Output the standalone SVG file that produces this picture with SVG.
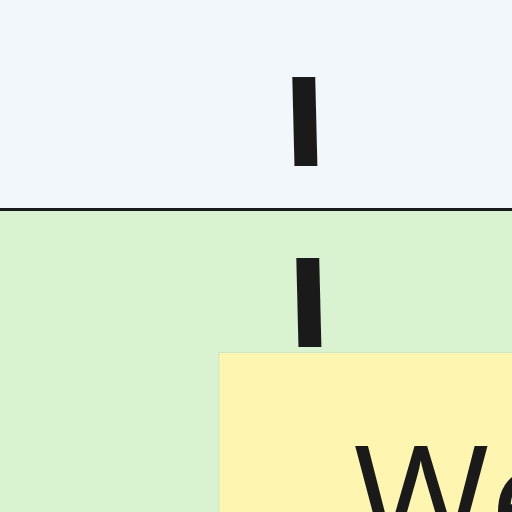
<svg xmlns="http://www.w3.org/2000/svg" width="512" height="512" viewBox="0 0 512 512">
<style>
.lbl{font-family:"DejaVu Sans",sans-serif;font-weight:bold;font-size:122px;fill:#1a1a1a}
.big{font-family:"Open Sans","Noto Sans",sans-serif;font-size:148px;fill:#1a1a1a}
</style>
<g id="lane-top">
<rect x="0" y="0" width="512" height="209" fill="#f2f7fc"/>
<text class="lbl" x="0" y="0" transform="translate(306,166) skewX(1.4)" text-anchor="middle">I</text>
</g>
<g id="lane-bottom">
<rect x="0" y="209" width="512" height="303" fill="#d9f2d0"/>
<text class="lbl" x="0" y="0" transform="translate(310,347) skewX(1.4)" text-anchor="middle">I</text>
</g>
<g id="connectors">
<line x1="0" y1="209.5" x2="512" y2="209.5" stroke="#1a1a1a" stroke-width="3"/>
</g>
<g id="node-w">
<rect x="219" y="352.5" width="320" height="200" fill="#fef6b0" stroke="#cfe6c4" stroke-width="1"/>
<text class="big" x="353" y="552">We</text>
</g>
</svg>
